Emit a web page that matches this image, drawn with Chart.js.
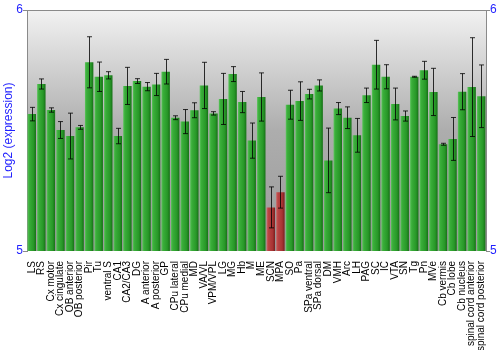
<!DOCTYPE html>
<html>
<head>
<meta charset="utf-8">
<script src="https://cdn.jsdelivr.net/npm/chart.js@4/dist/chart.umd.min.js"></script>
<style>
  html, body { margin: 0; padding: 0; background: #ffffff; }
  #wrap { width: 500px; height: 350px; }
</style>
</head>
<body>
<div id="wrap"><canvas id="c" width="500" height="350"></canvas></div>
<script>
const categories = ['LS','RS','Cx motor','Cx cingulate','OB anterior','OB posterior','Pir','Tu','ventral S','CA1','CA2/CA3','DG','A anterior','A posterior','GP','CPu lateral','CPu medial','MD','VA/VL','VPM/VPL','LG','MG','Hb','M','ME','SCN','MPA','SO','Pa','SPa ventral','SPa dorsal','DM','VMH','Arc','LH','PAG','SC','IC','VTA','SN','Tg','Pn','MVe','Cb vermis','Cb lobe','Cb nucleus','spinal cord anterior','spinal cord posterior'];
const values = [5.568,5.693,5.585,5.502,5.477,5.513,5.783,5.723,5.729,5.477,5.685,5.705,5.682,5.691,5.744,5.553,5.537,5.584,5.687,5.571,5.631,5.734,5.618,5.458,5.639,5.181,5.244,5.607,5.622,5.651,5.687,5.376,5.591,5.553,5.480,5.646,5.773,5.723,5.610,5.560,5.723,5.750,5.660,5.443,5.465,5.661,5.680,5.642];
const errors = [0.028,0.021,0.009,0.035,0.095,0.008,0.106,0.061,0.015,0.032,0.077,0.010,0.017,0.046,0.051,0.008,0.050,0.031,0.096,0.007,0.106,0.031,0.044,0.073,0.100,0.085,0.066,0.060,0.080,0.020,0.023,0.134,0.025,0.045,0.070,0.030,0.101,0.050,0.066,0.021,0.002,0.037,0.098,0.004,0.089,0.075,0.205,0.130];
const highlighted = ['SCN','MPA'];
const yTicks = [5, 6];
const yTitle = 'Log2 (expression)';

const BLUE = '#1f1fff';
const AXIS = '#8a8a8a';

const bgPlugin = {
  id: 'bg',
  beforeDraw(chart) {
    const {ctx, chartArea: a} = chart;
    const g = ctx.createLinearGradient(0, a.top, 0, a.bottom);
    g.addColorStop(0, '#f2f2f2');
    g.addColorStop(0.5, '#adadad');
    g.addColorStop(1, '#9a9a9a');
    ctx.save();
    ctx.fillStyle = g;
    ctx.fillRect(a.left, a.top, a.right - a.left, a.bottom - a.top);
    ctx.restore();
  }
};

function barGradient(ctx, el, red) {
  const w = el.width;
  const x0 = el.x - w / 2, x1 = el.x + w / 2;
  const g = ctx.createLinearGradient(x0, 0, x1, 0);
  if (red) {
    g.addColorStop(0, '#cc6666');
    g.addColorStop(0.2, '#bb4444');
    g.addColorStop(0.7, '#a83434');
    g.addColorStop(1, '#7a1e1e');
  } else {
    g.addColorStop(0, '#5cc45c');
    g.addColorStop(0.2, '#3aae3a');
    g.addColorStop(0.7, '#289828');
    g.addColorStop(1, '#167016');
  }
  return g;
}

const barGradPlugin = {
  id: 'barGrad',
  beforeDatasetsDraw(chart) {
    const ctx = chart.ctx;
    const meta = chart.getDatasetMeta(0);
    meta.data.forEach((el, i) => {
      el.options = Object.assign({}, el.options, {
        backgroundColor: barGradient(ctx, el, highlighted.includes(categories[i]))
      });
    });
  }
};

const errPlugin = {
  id: 'errBars',
  afterDatasetsDraw(chart) {
    const ctx = chart.ctx;
    const y = chart.scales.y;
    const meta = chart.getDatasetMeta(0);
    ctx.save();
    ctx.strokeStyle = 'rgba(0,0,0,0.8)';
    ctx.lineWidth = 1;
    meta.data.forEach((el, i) => {
      const x = Math.round(el.x) + 0.5;
      const yt = y.getPixelForValue(values[i] + errors[i]);
      const yb = y.getPixelForValue(values[i] - errors[i]);
      ctx.beginPath();
      ctx.moveTo(x, yt); ctx.lineTo(x, yb);
      ctx.moveTo(x - 2.5, yt); ctx.lineTo(x + 2.5, yt);
      ctx.moveTo(x - 2.5, yb); ctx.lineTo(x + 2.5, yb);
      ctx.stroke();
    });
    ctx.restore();
  }
};

new Chart(document.getElementById('c'), {
  type: 'bar',
  data: {
    labels: categories,
    datasets: [{
      data: values,
      backgroundColor: (c) => highlighted.includes(categories[c.dataIndex]) ? '#b04040' : '#2a9a2a',
      borderWidth: 0,
      barPercentage: 0.88,
      categoryPercentage: 1.0
    }]
  },
  options: {
    responsive: false,
    animation: false,
    events: [],
    layout: { padding: { top: 10, left: 0, right: 0, bottom: 0 } },
    plugins: { legend: { display: false }, tooltip: { enabled: false } },
    scales: {
      x: {
        offset: true,
        grid: { display: false },
        border: { display: false },
        ticks: {
          autoSkip: false,
          maxRotation: 90,
          minRotation: 90,
          padding: 2,
          color: '#000000',
          font: { family: 'Liberation Sans, Arial, sans-serif', size: 10 }
        },
        afterFit(s) { s.height = 99; }
      },
      y: {
        position: 'left',
        min: 5, max: 6,
        afterBuildTicks(s) { s.ticks = yTicks.map(v => ({ value: v })); },
        grid: {
          color: (c) => (c.tick && c.tick.value === 6) ? AXIS : 'rgba(0,0,0,0)',
          tickColor: AXIS,
          tickLength: 4,
          drawOnChartArea: true
        },
        border: { display: true, color: AXIS },
        ticks: {
          padding: 0,
          color: BLUE,
          font: { family: 'Liberation Sans, Arial, sans-serif', size: 12 }
        },
        title: {
          display: true,
          text: yTitle,
          color: BLUE,
          padding: { top: 1, bottom: 0 },
          font: { family: 'Liberation Sans, Arial, sans-serif', size: 12 }
        },
        afterFit(s) { s.width = 27; }
      },
      y2: {
        position: 'right',
        min: 5, max: 6,
        afterBuildTicks(s) { s.ticks = yTicks.map(v => ({ value: v })); },
        grid: { drawOnChartArea: false, tickColor: AXIS, tickLength: 4 },
        border: { display: true, color: AXIS },
        ticks: {
          padding: 0,
          color: BLUE,
          font: { family: 'Liberation Sans, Arial, sans-serif', size: 12 }
        },
        afterFit(s) { s.width = 14; }
      }
    }
  },
  plugins: [bgPlugin, barGradPlugin, errPlugin]
});
</script>
</body>
</html>
